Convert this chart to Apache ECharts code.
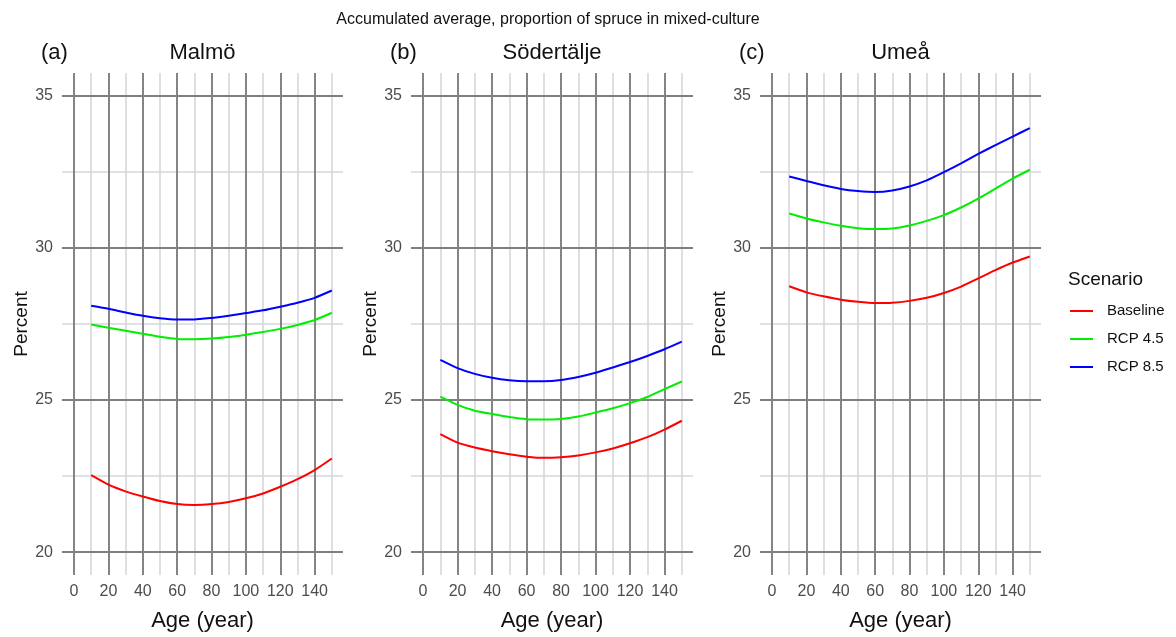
<!DOCTYPE html>
<html>
<head>
<meta charset="utf-8">
<title>Accumulated average, proportion of spruce in mixed-culture</title>
<script src="https://cdn.jsdelivr.net/npm/echarts@6/dist/echarts.min.js"></script>
<style>
  html, body { margin: 0; padding: 0; background: #ffffff; }
  #chart { width: 1176px; height: 637px; }
</style>
</head>
<body>
<div id="chart"></div>
<script>
// Stand age (years) shared by every panel
const ages = [10, 20, 30, 40, 50, 60, 70, 80, 90, 100, 110, 120, 130, 140, 150];

// Malmö
const malmoBaseline = [22.53, 22.22, 22.00, 21.83, 21.68, 21.58, 21.55, 21.58, 21.65, 21.77, 21.93, 22.15, 22.40, 22.70, 23.08];
const malmoRcp45    = [27.48, 27.38, 27.28, 27.18, 27.08, 27.01, 27.00, 27.02, 27.07, 27.15, 27.24, 27.34, 27.47, 27.63, 27.87];
const malmoRcp85    = [28.10, 28.00, 27.88, 27.77, 27.69, 27.65, 27.65, 27.70, 27.77, 27.86, 27.95, 28.07, 28.20, 28.36, 28.60];

// Södertälje
const sodBaseline = [23.88, 23.60, 23.44, 23.32, 23.22, 23.14, 23.10, 23.12, 23.18, 23.28, 23.41, 23.58, 23.78, 24.03, 24.32];
const sodRcp45    = [25.11, 24.84, 24.65, 24.54, 24.44, 24.37, 24.36, 24.38, 24.46, 24.59, 24.73, 24.90, 25.10, 25.36, 25.61];
const sodRcp85    = [26.32, 26.05, 25.86, 25.73, 25.65, 25.62, 25.62, 25.66, 25.76, 25.90, 26.07, 26.25, 26.45, 26.67, 26.92];

// Umeå
const umeBaseline = [28.74, 28.54, 28.41, 28.30, 28.23, 28.19, 28.20, 28.26, 28.36, 28.52, 28.73, 29.00, 29.27, 29.52, 29.72];
const umeRcp45    = [31.13, 30.97, 30.84, 30.73, 30.65, 30.62, 30.64, 30.74, 30.89, 31.08, 31.33, 31.62, 31.95, 32.28, 32.57];
const umeRcp85    = [32.35, 32.20, 32.06, 31.94, 31.87, 31.84, 31.89, 32.02, 32.22, 32.49, 32.78, 33.09, 33.38, 33.66, 33.94];

// Tick and grid values
const xMajorTicks = [0, 20, 40, 60, 80, 100, 120, 140];
const xMinorTicks = [10, 30, 50, 70, 90, 110, 130, 150];
const yMajorTicks = [20, 25, 30, 35];
const yMinorTicks = [22.5, 27.5, 32.5];

const scenarios = ['Baseline', 'RCP 4.5', 'RCP 8.5'];
const scenarioColors = ['#ff0000', '#00ee00', '#0000ff'];

const panels = [
  { tag: '(a)', name: 'Malmö',      values: [malmoBaseline, malmoRcp45, malmoRcp85] },
  { tag: '(b)', name: 'Södertälje', values: [sodBaseline, sodRcp45, sodRcp85] },
  { tag: '(c)', name: 'Umeå',       values: [umeBaseline, umeRcp45, umeRcp85] }
];

const FONT = '"Liberation Sans", Arial, sans-serif';
const MAJOR_COLOR = '#7f7f7f';
const MINOR_COLOR = '#d6d7dc';

const gridLayout = [
  { left: 62,  width: 281 },
  { left: 411, width: 282 },
  { left: 760, width: 281 }
];
const PLOT_TOP = 73;
const PLOT_HEIGHT = 504;

const grids = [], xAxes = [], yAxes = [], series = [];
const titles = [{
  text: 'Accumulated average, proportion of spruce in mixed-culture',
  left: 548, top: 12, textAlign: 'center', padding: 0,
  textStyle: { fontFamily: FONT, fontSize: 16, fontWeight: 'normal', color: '#111' }
}];

panels.forEach(function (p, i) {
  const g = gridLayout[i];
  grids.push({ left: g.left, width: g.width, top: PLOT_TOP, height: PLOT_HEIGHT, containLabel: false });

  xAxes.push({
    type: 'value', gridIndex: i, min: -7, max: 156.5,
    name: 'Age (year)', nameLocation: 'middle', nameGap: 35,
    nameTextStyle: { fontFamily: FONT, fontSize: 22, color: '#111' },
    axisLine: { show: false }, axisTick: { show: false, customValues: xMajorTicks },
    splitLine: { show: false },
    axisLabel: { customValues: xMajorTicks, margin: 9, fontFamily: FONT, fontSize: 16, color: '#4d4d4d' }
  });
  yAxes.push({
    type: 'value', gridIndex: i, min: 19.25, max: 35.75,
    name: 'Percent', nameLocation: 'middle', nameGap: 31,
    nameTextStyle: { fontFamily: FONT, fontSize: 19, color: '#111' },
    axisLine: { show: false }, axisTick: { show: false, customValues: yMajorTicks },
    splitLine: { show: false },
    axisLabel: { customValues: yMajorTicks, margin: 9, fontFamily: FONT, fontSize: 16, color: '#4d4d4d' }
  });

  // Panel grid lines, drawn behind the curves
  const minor = { color: MINOR_COLOR, width: 1.6, type: 'solid' };
  const major = { color: MAJOR_COLOR, width: 1.9, type: 'solid' };
  const lines = []
    .concat(xMinorTicks.map(v => ({ xAxis: v, lineStyle: minor })))
    .concat(yMinorTicks.map(v => ({ yAxis: v, lineStyle: minor })))
    .concat(xMajorTicks.map(v => ({ xAxis: v, lineStyle: major })))
    .concat(yMajorTicks.map(v => ({ yAxis: v, lineStyle: major })));
  series.push({
    name: 'panel-grid-' + i, type: 'line', xAxisIndex: i, yAxisIndex: i,
    data: [], z: 1, silent: true,
    markLine: {
      silent: true, symbol: 'none', z: 1, animation: false,
      label: { show: false }, emphasis: { disabled: true },
      data: lines
    }
  });

  p.values.forEach(function (vals, k) {
    series.push({
      name: scenarios[k], type: 'line', xAxisIndex: i, yAxisIndex: i, z: 3,
      data: ages.map((a, j) => [a, vals[j]]),
      showSymbol: false, symbol: 'none', smooth: 0.2,
      lineStyle: { color: scenarioColors[k], width: 2 },
      itemStyle: { color: scenarioColors[k] },
      emphasis: { disabled: true }
    });
  });

  const center = g.left + g.width / 2;
  titles.push({
    text: p.name, left: center, top: 42, textAlign: 'center', padding: 0,
    textStyle: { fontFamily: FONT, fontSize: 22, fontWeight: 'normal', color: '#111' }
  });
  titles.push({
    text: p.tag, left: g.left - 21, top: 42, textAlign: 'left', padding: 0,
    textStyle: { fontFamily: FONT, fontSize: 22, fontWeight: 'normal', color: '#111' }
  });
});

titles.push({
  text: 'Scenario', left: 1068, top: 270, textAlign: 'left', padding: 0,
  textStyle: { fontFamily: FONT, fontSize: 19, fontWeight: 'normal', color: '#111' }
});

const chart = echarts.init(document.getElementById('chart'), null, { renderer: 'canvas' });
chart.setOption({
  backgroundColor: '#ffffff',
  animation: false,
  title: titles,
  grid: grids,
  xAxis: xAxes,
  yAxis: yAxes,
  legend: {
    data: scenarios, orient: 'vertical', left: 1070, top: 302, padding: 0,
    icon: 'rect', itemWidth: 23, itemHeight: 2, itemGap: 10,
    selectedMode: false,
    textStyle: { fontFamily: FONT, fontSize: 15, color: '#111', lineHeight: 18, padding: [0, 0, 0, 9] }
  },
  series: series
});
</script>
</body>
</html>
